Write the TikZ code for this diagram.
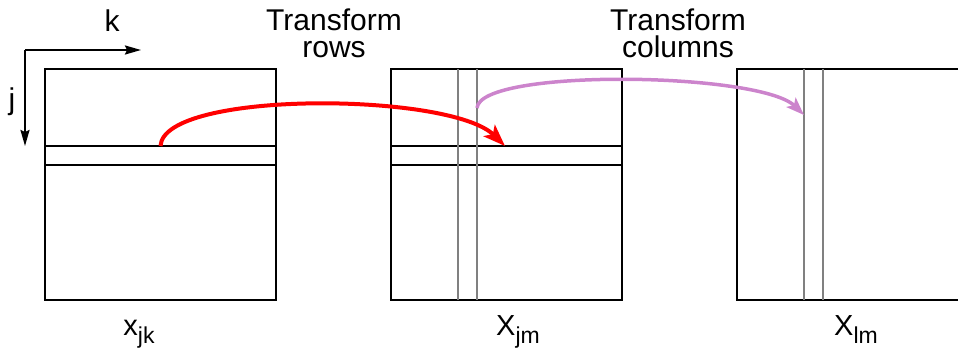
\documentclass[tikz,border=0pt]{standalone}
\usepackage{fontspec}
\setmainfont{Liberation Sans}
\usetikzlibrary{positioning,arrows.meta}

\definecolor{orchidline}{RGB}{204,132,204}
\newcommand{\matsub}[2]{#1{\fontsize{23}{23}\selectfont\raisebox{-8pt}{#2}}}

\begin{document}
\begin{tikzpicture}[
      x=1pt, y=-1pt,
      node distance=115pt,
      mat/.style={draw, line width=1.5pt, minimum width=231pt, minimum height=231pt,
                  inner sep=0pt, outer sep=0pt},
      rowline/.style={line width=2pt},
      colline/.style={gray, line width=2pt},
      lbl/.style={font=\fontsize{30}{27}\selectfont, align=center, inner sep=0pt},
      sym/.style={font=\fontsize{29}{29}\selectfont, inner sep=0pt, anchor=base},
      axis/.style={-{Stealth[length=16pt,width=9pt,inset=2pt]}, line width=2pt},
      arr/.style={-{Stealth[length=22pt,width=16pt,inset=5pt]}, line width=4pt}
    ]
    \useasboundingbox (0,0) rectangle (958,351);

    % the three matrices
    \node[mat] (xjk) at (160.5,184.5) {};
    \node[mat] (xjm) [right=of xjk] {};
    \node[mat] (xlm) [right=of xjm] {};

    % rows and columns
    \foreach \m in {xjk,xjm} {
      \draw[rowline] ([yshift=-77pt]\m.north west) -- ([yshift=-77pt]\m.north east);
      \draw[rowline] ([yshift=-96pt]\m.north west) -- ([yshift=-96pt]\m.north east);
    }
    \foreach \m in {xjm,xlm} {
      \draw[colline] ([xshift=67pt]\m.north west) -- ([xshift=67pt]\m.south west);
      \draw[colline] ([xshift=86pt]\m.north west) -- ([xshift=86pt]\m.south west);
    }

    % axes
    \coordinate (origin) at ([xshift=-20pt,yshift=19pt]xjk.north west);
    \coordinate (kend) at ([xshift=116pt]origin);
    \coordinate (jend) at ([yshift=-96pt]origin);
    \draw[axis] (origin) -- (kend);
    \draw[axis] (origin) -- (jend);
    \node[lbl, anchor=base] (klbl) at (112,31) {k};
    \node[lbl, anchor=base] (jlbl) at (12,109) {j};

    % transforms
    \coordinate (rowsrc) at ([yshift=-77pt]xjk.north);
    \coordinate (rowdst) at ([xshift=114pt,yshift=-77pt]xjm.north west);
    \coordinate (colsrc) at ([xshift=86pt,yshift=-39pt]xjm.north west);
    \coordinate (coldst) at ([xshift=67pt,yshift=-46pt]xlm.north west);
    \draw[arr, red] (rowsrc) .. controls +(3,-56) and +(-55,-54) .. (rowdst);
    \draw[arr, orchidline, line width=3.5pt,
          -{Stealth[length=18pt,width=13pt,inset=4pt]}]
      (colsrc) .. controls +(3,-40) and +(-44,-43) .. (coldst);

    \node[lbl] (rowlbl) at (334,33) {Transform\\rows};
    \node[lbl] (collbl) at (678,33) {Transform\\columns};

    % labels
    \node[sym] (xjklbl) at (139,335) {\matsub{x}{jk}};
    \node[sym] (xjmlbl) at (518,335) {\matsub{X}{jm}};
    \node[sym] (xlmlbl) at (856,335) {\matsub{X}{lm}};
  \end{tikzpicture}
\end{document}
